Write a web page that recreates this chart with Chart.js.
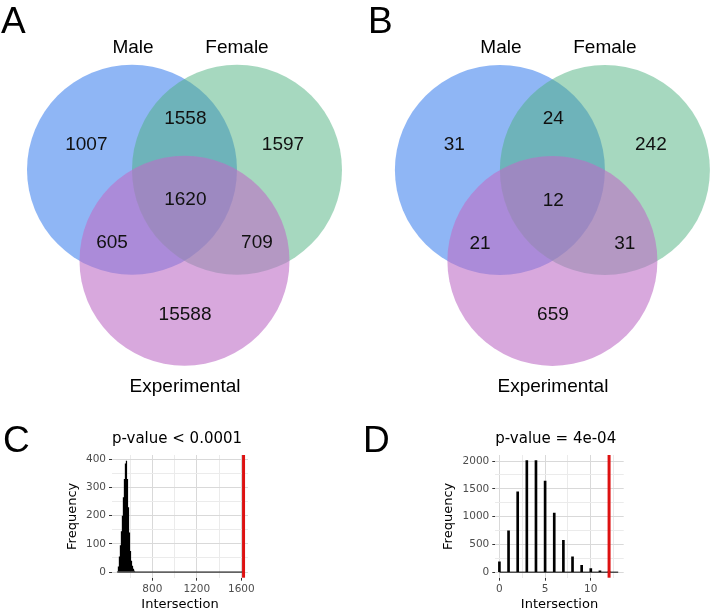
<!DOCTYPE html>
<html><head><meta charset="utf-8">
<script src="https://cdn.jsdelivr.net/npm/chart.js@4.4.1/dist/chart.umd.min.js"></script>
<style>
html,body{margin:0;padding:0;background:#fff;width:712px;height:611px;overflow:hidden;}
#wrap{position:relative;width:712px;height:611px;}
canvas{position:absolute;}
.lab{position:absolute;font-family:'Liberation Sans',Arial,sans-serif;font-size:37px;line-height:37px;color:#000;}
</style></head><body>
<div id="wrap">
<canvas id="vA" width="356" height="415" style="left:0;top:0"></canvas>
<canvas id="vB" width="356" height="415" style="left:356px;top:0"></canvas>
<canvas id="hC" width="356" height="196" style="left:0;top:415px"></canvas>
<canvas id="hD" width="356" height="196" style="left:356px;top:415px"></canvas>
<div class="lab" style="left:1px;top:2px">A</div>
<div class="lab" style="left:368px;top:2px">B</div>
<div class="lab" style="left:3px;top:421px">C</div>
<div class="lab" style="left:363px;top:421px">D</div>
</div>
<script>
// ---------- data ----------
const SET_NAMES = ['Male', 'Female', 'Experimental'];
// region order: Male only, Female only, Experimental only, Male&Female, Male&Exp, Female&Exp, all three
const COUNTS_A = [1007, 1597, 15588, 1558, 605, 709, 1620];
const COUNTS_B = [31, 242, 659, 24, 21, 31, 12];

const C_BINS = [487, 496, 505, 514, 523, 532, 541, 550, 559, 568, 577, 586, 595, 604, 613, 622, 631, 640, 649];
const C_FREQ = [3, 20, 55, 95, 145, 200, 265, 330, 385, 395, 330, 230, 140, 75, 40, 22, 12, 5, 2];
const C_RANGE = [485, 1620];
const C_OBSERVED = 1620;
const C_TITLE = 'p-value < 0.0001';
const C_X_TICKS = [800, 1200, 1600];
const C_Y_TICKS = [0, 100, 200, 300, 400];

const D_BINS = [0, 1, 2, 3, 4, 5, 6, 7, 8, 9, 10, 11, 12];
const D_FREQ = [185, 745, 1445, 2010, 2010, 1640, 1065, 575, 275, 125, 66, 23, 4];
const D_RANGE = [0, 13];
const D_OBSERVED = 12;
const D_TITLE = 'p-value = 4e-04';
const D_X_TICKS = [0, 5, 10];
const D_Y_TICKS = [0, 500, 1000, 1500, 2000];

// ---------- venn geometry (unit circle radius) ----------
const VENN_R = 1;
const CIRCLE_CENTERS = [[-0.5, 0.289], [0.5, 0.289], [0, -0.577]];
const CIRCLE_COLORS = ['rgba(31,109,235,0.5)', 'rgba(77,177,127,0.5)', 'rgba(190,110,198,0.6)'];
const REGION_POS = [[-0.935, 0.525], [0.938, 0.525], [0.005, -1.093], [0.008, 0.78], [-0.69, -0.41], [0.69, -0.41], [0.008, 0]];
const SET_LABEL_POS = [[-0.49, 1.45], [0.50, 1.45], [0.005, -1.78]];

Chart.defaults.font.family = "'DejaVu Sans', sans-serif";

const vennLabels = {
  id: 'vennLabels',
  afterDatasetsDraw(chart, args, o) {
    const {ctx, scales: {x, y}} = chart;
    ctx.save();
    ctx.textAlign = 'center';
    ctx.textBaseline = 'middle';
    ctx.font = "19px 'Liberation Sans', Arial, sans-serif";
    ctx.fillStyle = '#111';
    o.counts.forEach((c, i) => {
      ctx.fillText(String(c), x.getPixelForValue(REGION_POS[i][0]), y.getPixelForValue(REGION_POS[i][1]));
    });
    ctx.fillStyle = '#000';
    SET_NAMES.forEach((n, i) => {
      ctx.fillText(n, x.getPixelForValue(SET_LABEL_POS[i][0]), y.getPixelForValue(SET_LABEL_POS[i][1]));
    });
    ctx.restore();
  }
};

function venn(id, counts, xr, yr) {
  const chart = new Chart(document.getElementById(id), {
    type: 'bubble',
    data: {datasets: [{
      data: CIRCLE_CENTERS.map(c => ({x: c[0], y: c[1]})),
      backgroundColor: CIRCLE_COLORS,
      borderWidth: 0,
      clip: false
    }]},
    options: {
      responsive: false, animation: false, devicePixelRatio: 1, events: [],
      layout: {padding: 0, autoPadding: false},
      plugins: {legend: {display: false}, tooltip: {enabled: false}, vennLabels: {counts}},
      scales: {
        x: {type: 'linear', display: false, min: xr[0], max: xr[1]},
        y: {type: 'linear', display: false, min: yr[0], max: yr[1]}
      }
    },
    plugins: [vennLabels]
  });
  // circle radius in pixels taken from the library's own x scale
  const s = chart.scales.x;
  const rPx = Math.abs(s.getPixelForValue(VENN_R) - s.getPixelForValue(0));
  chart.data.datasets[0].data = CIRCLE_CENTERS.map(c => ({x: c[0], y: c[1], r: rPx}));
  chart.update();
}
venn('vA', COUNTS_A, [-1.7571, 1.6333], [-2.0457, 1.9067]);
venn('vB', COUNTS_B, [-1.8705, 1.52], [-2.0448, 1.9076]);

// ---------- histograms ----------
const vline = {
  id: 'vline',
  afterDatasetsDraw(chart, args, o) {
    const {ctx, chartArea: a, scales: {x}} = chart;
    const px = x.getPixelForValue(o.value);
    ctx.save();
    ctx.strokeStyle = o.color; ctx.lineWidth = o.width;
    ctx.beginPath(); ctx.moveTo(px, a.top); ctx.lineTo(px, a.bottom); ctx.stroke();
    ctx.restore();
  }
};

function withMinor(majors, lo, hi) {
  const step = majors[1] - majors[0];
  const all = majors.slice();
  for (let i = -1; i < majors.length; i++) all.push(majors[0] + step * (i + 0.5));
  return all.filter(v => v >= lo && v <= hi).sort((a, b) => a - b);
}

function axis(majors, lo, hi, extra) {
  return Object.assign({
    type: 'linear', min: lo, max: hi, offset: false,
    afterBuildTicks: s => { s.ticks = withMinor(majors, lo, hi).map(v => ({value: v})); },
    border: {display: false},
    grid: {
      offset: false, drawTicks: true, tickLength: 3, lineWidth: 1, tickWidth: 1,
      color: c => majors.includes(c.tick && c.tick.value) ? '#d9d9d9' : '#ebebeb',
      tickColor: c => majors.includes(c.tick && c.tick.value) ? '#333333' : 'rgba(0,0,0,0)'
    },
    ticks: {
      autoSkip: false, maxRotation: 0, color: '#4d4d4d', font: {size: 10.5},
      callback: v => majors.includes(v) ? String(v) : ''
    }
  }, extra);
}

function hist(id, bins, freq, range, observed, title, xt, yt, xr, yr, yAxisW, yTitlePad, padRight, barOpts) {
  new Chart(document.getElementById(id), {
    type: 'bar',
    data: {datasets: [
      {type: 'line', data: range.map(v => ({x: v, y: 0})), borderColor: '#000', borderWidth: 1, pointRadius: 0, order: 0},
      Object.assign({data: bins.map((b, i) => ({x: b, y: freq[i]})), backgroundColor: '#000', borderWidth: 0,
        categoryPercentage: 1, grouped: false, order: 1}, barOpts)
    ]},
    options: {
      responsive: false, animation: false, devicePixelRatio: 1, events: [],
      layout: {padding: {left: 0, right: padRight, top: 0, bottom: 0}},
      plugins: {
        legend: {display: false}, tooltip: {enabled: false},
        title: {display: true, text: title, align: 'start', fullSize: false, color: '#000',
          font: {size: 15, weight: 'normal', lineHeight: 1.2}, padding: {top: 14.8, bottom: 7.2}},
        vline: {value: observed, color: '#dd1111', width: 3}
      },
      scales: {
        x: axis(xt, xr[0], xr[1], {
          afterFit: s => { s.height = 33.3; },
          ticks: Object.assign({}, axis(xt, 0, 1).ticks, {padding: 2}),
          title: {display: true, text: 'Intersection', color: '#000', font: {size: 13, lineHeight: 1}, padding: 0}
        }),
        y: axis(yt, yr[0], yr[1], {
          afterFit: s => { s.width = yAxisW; },
          ticks: Object.assign({}, axis(yt, 0, 1).ticks, {padding: 3}),
          title: {display: true, text: 'Frequency', color: '#000', font: {size: 13, lineHeight: 1.2}, padding: {top: yTitlePad, bottom: 0}}
        })
      }
    },
    plugins: [vline]
  });
}

hist('hC', C_BINS, C_FREQ, C_RANGE, C_OBSERVED, C_TITLE, C_X_TICKS, C_Y_TICKS, [438, 1660], [-20, 415], 112, 65, 108, {barPercentage: 1.25});
hist('hD', D_BINS, D_FREQ, D_RANGE, D_OBSERVED, D_TITLE, D_X_TICKS, D_Y_TICKS, [-0.45, 13.6], [-100, 2110], 139.3, 85.2, 88.3, {barThickness: 2});
</script>
</body></html>
